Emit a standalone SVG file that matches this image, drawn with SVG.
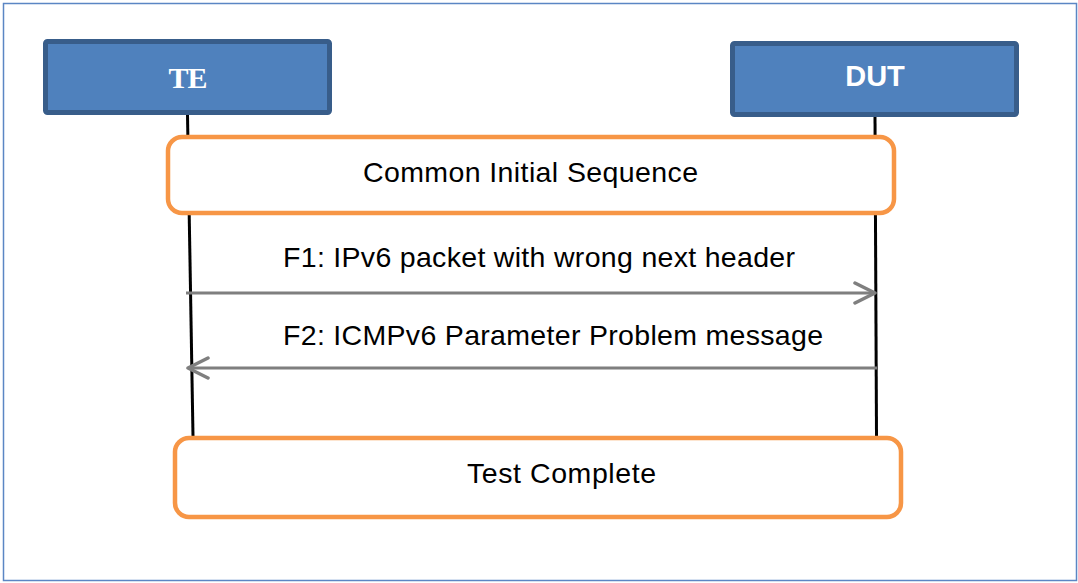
<svg xmlns="http://www.w3.org/2000/svg" width="1078" height="583" viewBox="0 0 1078 583">
  <style>
    .actor { fill: #4f81bd; stroke: #385d8a; stroke-width: 5; }
    .phase { fill: #ffffff; stroke: #f79646; stroke-width: 4.5; }
    .life { stroke: #000000; stroke-width: 3; fill: none; }
    .msg { stroke: #7f7f7f; stroke-width: 3; fill: none; }
    .lbl { font-family: "Liberation Sans", Arial, sans-serif; font-size: 28.5px; fill: #000000; }
  </style>
  <defs>
    <marker id="chev" markerUnits="userSpaceOnUse" viewBox="0 0 24 24" refX="22" refY="12" markerWidth="24" markerHeight="24" orient="auto">
      <path d="M2,2 L22,12 L2,22" fill="none" stroke="#7f7f7f" stroke-width="3.5" stroke-linecap="round" stroke-linejoin="round"/>
    </marker>
  </defs>
  <rect x="0" y="0" width="1078" height="583" fill="#ffffff"/>
  <rect x="3.5" y="3.5" width="1073" height="577" fill="none" stroke="#5b86c4" stroke-width="1.5"/>

  <g id="lifelines">
    <line class="life" x1="187.5" y1="115" x2="193" y2="436"/>
    <line class="life" x1="875" y1="117" x2="876.5" y2="436"/>
  </g>

  <g id="TE">
    <rect class="actor" x="45.5" y="41.5" width="284" height="71" rx="2"/>
    <text x="188" y="88" text-anchor="middle" font-family="'Liberation Serif', 'Times New Roman', serif" font-weight="bold" font-size="30" fill="#ffffff" textLength="39">TE</text>
  </g>

  <g id="DUT">
    <rect class="actor" x="732.5" y="43.5" width="284" height="71" rx="2"/>
    <text x="875" y="86" text-anchor="middle" font-family="'Liberation Sans', Arial, sans-serif" font-weight="bold" font-size="29" fill="#ffffff">DUT</text>
  </g>

  <g id="common-initial-sequence">
    <rect class="phase" x="168" y="137" width="726" height="76" rx="14"/>
    <text class="lbl" x="363" y="182" textLength="335">Common Initial Sequence</text>
  </g>

  <g id="connectors">
    <line class="msg" x1="186" y1="293" x2="875" y2="293" marker-end="url(#chev)"/>
    <text class="lbl" x="283" y="267" textLength="512">F1: IPv6 packet with wrong next header</text>
    <line class="msg" x1="877" y1="368" x2="188" y2="368" marker-end="url(#chev)"/>
    <text class="lbl" x="283" y="345" textLength="540">F2: ICMPv6 Parameter Problem message</text>
  </g>

  <g id="test-complete">
    <rect class="phase" x="175" y="438" width="726" height="79" rx="14"/>
    <text class="lbl" x="467" y="483" textLength="189">Test Complete</text>
  </g>
</svg>
